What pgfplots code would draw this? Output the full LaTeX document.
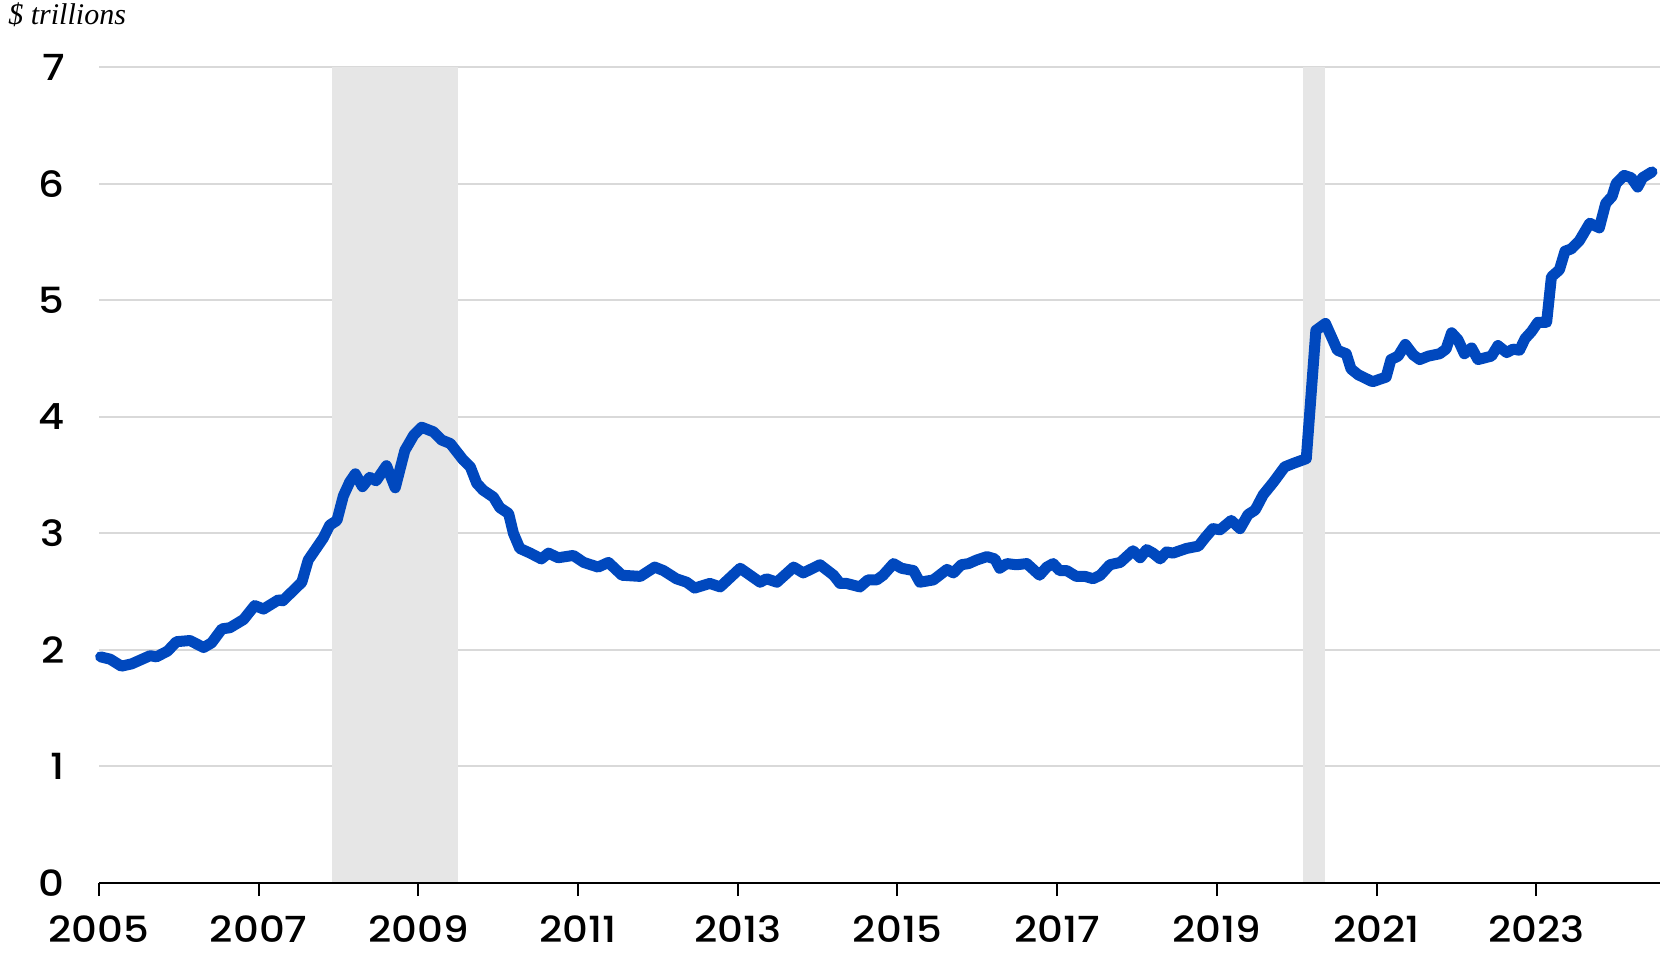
\documentclass[border=0pt]{standalone}
\usepackage{fontspec}
\usepackage{pgfplots}
\pgfplotsset{compat=1.18}
\newfontfamily\tickfont{Poppins}[UprightFont=* Medium, FakeStretch=1.12]
\newfontfamily\labfont{Liberation Serif}
\definecolor{linecol}{RGB}{0,72,190}
\definecolor{shade}{RGB}{230,230,230}
\definecolor{gridc}{RGB}{217,217,217}
\begin{document}
\begin{tikzpicture}
\path[use as bounding box] (-49.5pt,-34.5pt) rectangle (782pt,441.5pt);
\begin{axis}[
  scale only axis,
  width=780.5pt, height=408pt,
  xmin=2005, xmax=2024.55,
  ymin=0, ymax=7,
  axis x line*=bottom,
  axis y line*=left,
  y axis line style={draw=none},
  x axis line style={draw=none},
  ytick={0,1,...,7},
  yticklabels={0,1,2,3,4,5,6,7},
  xtick={2005,2007,...,2023},
  xticklabels={2005,2007,2009,2011,2013,2015,2017,2019,2021,2023},
  ymajorgrids,
  major grid style={gridc, line width=1pt},
  ytick style={draw=none},
  xtick style={black, line width=1pt},
  tick align=outside,
  major tick length=6.5pt,
  xticklabel style={font=\tickfont\fontsize{18}{18}\selectfont, anchor=north, inner sep=0pt, yshift=-9.5pt},
  yticklabel style={font=\tickfont\fontsize{18}{18}\selectfont, anchor=east, inner sep=0pt, xshift=-10.5pt},
  clip=false,
]
\addplot[fill=shade, draw=none] coordinates {(2007.92,0) (2009.5,0) (2009.5,7) (2007.92,7)} -- cycle;
\addplot[fill=shade, draw=none] coordinates {(2020.08,0) (2020.35,0) (2020.35,7) (2020.08,7)} -- cycle;
\draw[black, line width=1pt] (axis cs:2005,0) -- (axis cs:2024.55,0);
\addplot[linecol, line width=5.5pt, line cap=round, line join=round] coordinates {
(2005.02,1.94) (2005.14,1.92) (2005.28,1.86) (2005.41,1.88) (2005.64,1.95) (2005.72,1.94)
(2005.86,1.99) (2005.97,2.07) (2006.14,2.08) (2006.31,2.02) (2006.41,2.06) (2006.54,2.18)
(2006.64,2.19) (2006.81,2.26) (2006.95,2.38) (2007.06,2.35) (2007.25,2.43) (2007.30,2.42)
(2007.54,2.58) (2007.62,2.77) (2007.81,2.96) (2007.89,3.07) (2007.98,3.11) (2008.06,3.32)
(2008.14,3.44) (2008.21,3.51) (2008.30,3.40) (2008.39,3.48) (2008.47,3.45) (2008.60,3.58)
(2008.71,3.39) (2008.83,3.71) (2008.94,3.84) (2009.04,3.91) (2009.19,3.87) (2009.29,3.80)
(2009.40,3.77) (2009.56,3.63) (2009.65,3.57) (2009.73,3.43) (2009.81,3.37) (2009.94,3.31)
(2010.02,3.22) (2010.13,3.17) (2010.19,3.00) (2010.27,2.87) (2010.40,2.83) (2010.54,2.78)
(2010.63,2.83) (2010.75,2.79) (2010.94,2.81) (2011.07,2.75) (2011.25,2.71) (2011.38,2.75)
(2011.55,2.64) (2011.78,2.63) (2011.96,2.71) (2012.07,2.68) (2012.23,2.61) (2012.36,2.58)
(2012.46,2.53) (2012.65,2.57) (2012.78,2.54) (2013.03,2.70) (2013.28,2.58) (2013.36,2.61)
(2013.49,2.58) (2013.70,2.71) (2013.82,2.66) (2014.03,2.73) (2014.20,2.64) (2014.28,2.57)
(2014.36,2.57) (2014.53,2.54) (2014.63,2.60) (2014.74,2.60) (2014.82,2.64) (2014.95,2.74)
(2015.05,2.70) (2015.20,2.68) (2015.28,2.58) (2015.45,2.60) (2015.62,2.69) (2015.70,2.66)
(2015.80,2.73) (2015.89,2.74) (2015.99,2.77) (2016.12,2.80) (2016.22,2.78) (2016.28,2.70)
(2016.37,2.74) (2016.49,2.73) (2016.62,2.74) (2016.78,2.64) (2016.87,2.71) (2016.95,2.74)
(2017.03,2.68) (2017.12,2.68) (2017.24,2.63) (2017.35,2.63) (2017.45,2.61) (2017.54,2.64)
(2017.66,2.73) (2017.79,2.75) (2017.95,2.85) (2018.04,2.79) (2018.12,2.86) (2018.20,2.83)
(2018.29,2.78) (2018.37,2.84) (2018.45,2.83) (2018.62,2.87) (2018.77,2.89) (2018.85,2.96)
(2018.95,3.04) (2019.04,3.03) (2019.18,3.11) (2019.29,3.04) (2019.39,3.16) (2019.48,3.20)
(2019.58,3.33) (2019.71,3.44) (2019.85,3.57) (2019.96,3.60) (2020.12,3.64) (2020.24,4.74)
(2020.36,4.80) (2020.51,4.57) (2020.62,4.54) (2020.68,4.41) (2020.77,4.36) (2020.95,4.30)
(2021.12,4.34) (2021.18,4.49) (2021.27,4.52) (2021.36,4.62) (2021.46,4.53) (2021.54,4.49)
(2021.65,4.52) (2021.79,4.54) (2021.87,4.58) (2021.94,4.72) (2022.02,4.66) (2022.10,4.54)
(2022.19,4.59) (2022.27,4.49) (2022.44,4.52) (2022.52,4.61) (2022.63,4.55) (2022.71,4.58)
(2022.79,4.57) (2022.86,4.67) (2022.94,4.73) (2023.02,4.81) (2023.13,4.81) (2023.19,5.20)
(2023.29,5.26) (2023.36,5.42) (2023.44,5.44) (2023.54,5.51) (2023.67,5.66) (2023.79,5.62)
(2023.87,5.83) (2023.95,5.89) (2024.00,6.00) (2024.10,6.07) (2024.19,6.05) (2024.27,5.97)
(2024.33,6.05) (2024.45,6.10)
};
\end{axis}
\node[anchor=base west, inner sep=0pt, font=\labfont\itshape\fontsize{15}{15}\selectfont] at (-45.5pt,429pt) {\$ trillions};
\end{tikzpicture}
\end{document}
